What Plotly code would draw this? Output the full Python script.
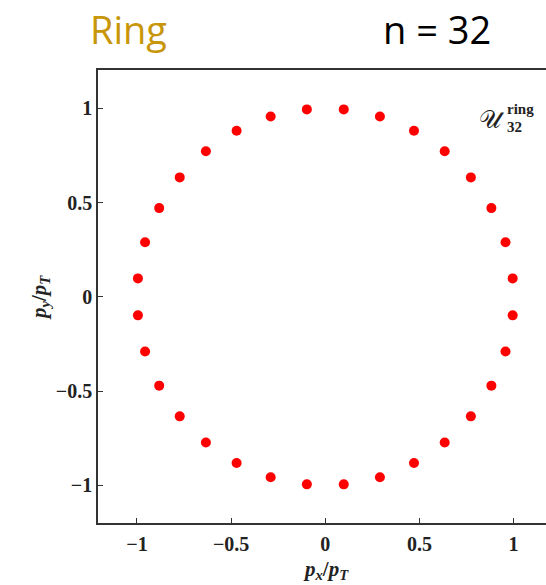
import plotly.graph_objects as go

# Momentum-direction points of the 32-particle ring configuration
px_over_pt = [0.995, 0.957, 0.882, 0.773, 0.634, 0.471, 0.290, 0.098,
              -0.098, -0.290, -0.471, -0.634, -0.773, -0.882, -0.957, -0.995,
              -0.995, -0.957, -0.882, -0.773, -0.634, -0.471, -0.290, -0.098,
              0.098, 0.290, 0.471, 0.634, 0.773, 0.882, 0.957, 0.995]
py_over_pt = [0.098, 0.290, 0.471, 0.634, 0.773, 0.882, 0.957, 0.995,
              0.995, 0.957, 0.882, 0.773, 0.634, 0.471, 0.290, 0.098,
              -0.098, -0.290, -0.471, -0.634, -0.773, -0.882, -0.957, -0.995,
              -0.995, -0.957, -0.882, -0.773, -0.634, -0.471, -0.290, -0.098]

tick_vals = [-1, -0.5, 0, 0.5, 1]
tick_text = ["<b>\u22121</b>", "<b>\u22120.5</b>", "<b>0</b>", "<b>0.5</b>", "<b>1</b>"]

W, H = 546, 585
L, R, T, B = 98, 0, 70, 62
pw, ph = W - L - R, H - T - B


def px(x):
    return (x - L) / pw


def py(y):
    return (H - B - y) / ph


fig = go.Figure()
fig.add_trace(go.Scatter(
    x=px_over_pt, y=py_over_pt, mode="markers",
    marker=dict(color="#ff0000", size=10, line=dict(width=0)),
    showlegend=False, hoverinfo="skip",
))

serif = "Liberation Serif, Times New Roman, serif"
axis_common = dict(
    tickvals=tick_vals, ticktext=tick_text,
    ticks="inside", ticklen=5, tickwidth=1.2, tickcolor="#333",
    showline=True, linecolor="#333", linewidth=1.5,
    showgrid=False, zeroline=False,
    tickfont=dict(family=serif, size=20, color="#222"),
)

fig.update_layout(
    width=W, height=H,
    margin=dict(l=L, r=R, t=T, b=B),
    paper_bgcolor="white", plot_bgcolor="white",
    xaxis=dict(range=[-1.207, 1.172], mirror=True, ticklabelstandoff=2, **axis_common),
    yaxis=dict(range=[-1.2, 1.204], ticklabelstandoff=0, **axis_common),
)


def label(x, y, text, size, color="#222", family=serif, xanchor="center", angle=0):
    fig.add_annotation(
        x=px(x), y=py(y), xref="paper", yref="paper",
        xanchor=xanchor, yanchor="middle", textangle=angle,
        text=text, showarrow=False,
        font=dict(family=family, size=size, color=color),
    )


label(40, 297, "<b><i>p</i><sub><i>y</i></sub>/<i>p</i><sub><i>T</i></sub></b>", 21, angle=-90)
label(326, 570, "<b><i>p</i><sub><i>x</i></sub>/<i>p</i><sub><i>T</i></sub></b>", 21)

# Script-U symbol with stacked super/subscripts
label(492, 119, "\U0001D4B0", 25, family="DejaVu Serif, serif")
label(505, 109, "<b>ring</b>", 15, xanchor="left")
label(505, 127, "<b>32</b>", 15, xanchor="left")

sans = "Open Sans, sans-serif"
label(88, 29, "Ring", 38, color="#c8960a", family=sans, xanchor="left")
label(493, 29, "n = 32", 38, color="black", family=sans, xanchor="right")

fig.write_html("out.html")
